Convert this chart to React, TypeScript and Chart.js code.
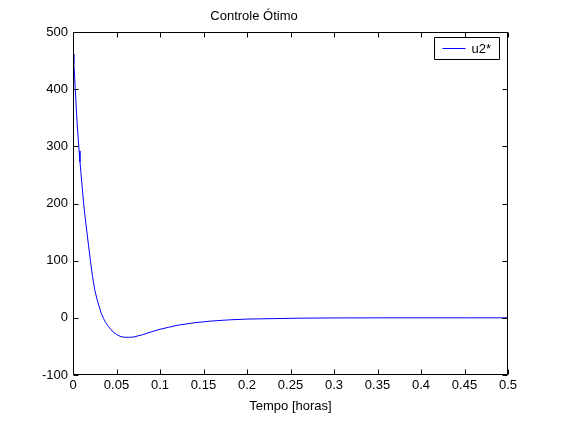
import React, { useEffect, useRef } from "react";
import { Chart, registerables } from "chart.js";

Chart.register(...registerables);

const chartTitle = "Controle Ótimo";
const xAxisTitle = "Tempo [horas]";
const seriesLabel = "u2*";

const times = [
  0, 0.001, 0.002, 0.003, 0.004, 0.005, 0.006, 0.007, 0.008, 0.009, 0.01,
  0.011, 0.012, 0.0135, 0.015, 0.0175, 0.02, 0.0225, 0.025, 0.0275, 0.03,
  0.0325, 0.035, 0.0375, 0.04, 0.045, 0.05, 0.055, 0.06, 0.065, 0.07, 0.08,
  0.09, 0.1, 0.11, 0.12, 0.14, 0.16, 0.18, 0.2, 0.23, 0.26, 0.3, 0.35, 0.4,
  0.45, 0.5,
];
const u2Values = [
  461, 445, 418, 388, 360, 335, 314, 292, 273, 256, 238, 222, 203, 182, 162,
  131, 100, 72, 49, 33, 20, 8, -1, -8, -14, -23, -29, -33, -34, -34, -33.5,
  -29.5, -24.5, -20, -16.5, -13, -8.5, -5.5, -3.5, -2.2, -1.4, -0.6, -0.2, 0,
  0, 0, 0,
];

const xMin = 0;
const xMax = 0.5;
const xStep = 0.05;
const yMin = -100;
const yMax = 500;
const yStep = 100;

const FONT = "'Liberation Sans', Arial, Helvetica, sans-serif";

const boxPlugin = {
  id: "matlabBox",
  afterDraw(chart: any) {
    const { ctx, chartArea: a, scales } = chart;
    const xs = scales.x;
    const ys = scales.y;
    const L = Math.round(a.left) + 0.5;
    const R = Math.round(a.right) - 0.5;
    const T = Math.round(a.top) + 0.5;
    const B = Math.round(a.bottom) - 0.5;
    const tl = 5;
    ctx.save();
    ctx.strokeStyle = "#000";
    ctx.lineWidth = 1;
    ctx.beginPath();
    ctx.rect(L, T, R - L, B - T);
    xs.ticks.forEach((t: any) => {
      const px = Math.round(xs.getPixelForValue(t.value)) + 0.5;
      ctx.moveTo(px, B);
      ctx.lineTo(px, B - tl);
      ctx.moveTo(px, T);
      ctx.lineTo(px, T + tl);
    });
    ys.ticks.forEach((t: any) => {
      const py = Math.round(ys.getPixelForValue(t.value)) + 0.5;
      ctx.moveTo(L, py);
      ctx.lineTo(L + tl, py);
      ctx.moveTo(R, py);
      ctx.lineTo(R - tl, py);
    });
    ctx.stroke();

    // legend
    const ds = chart.data.datasets[0];
    const lw = 65;
    const lh = 22;
    const lx = Math.round(a.right) - 9 - lw + 0.5;
    const ly = Math.round(a.top) + 5 + 0.5;
    ctx.fillStyle = "#fff";
    ctx.fillRect(lx, ly, lw, lh);
    ctx.beginPath();
    ctx.rect(lx, ly, lw, lh);
    ctx.stroke();
    const cy = Math.round(ly + lh / 2) - 0.5;
    ctx.strokeStyle = ds.borderColor;
    ctx.beginPath();
    ctx.moveTo(lx + 8, cy);
    ctx.lineTo(lx + 31, cy);
    ctx.stroke();
    ctx.fillStyle = "#000";
    ctx.font = `13px ${FONT}`;
    ctx.textBaseline = "middle";
    ctx.textAlign = "left";
    ctx.fillText(ds.label, lx + 37, cy + 0.5);
    ctx.restore();
  },
};

export default function App() {
  const ref = useRef<HTMLCanvasElement | null>(null);

  useEffect(() => {
    if (!ref.current) return;
    const chart = new Chart(ref.current, {
      type: "line",
      data: {
        datasets: [
          {
            label: seriesLabel,
            data: times.map((t, i) => ({ x: t, y: u2Values[i] })),
            borderColor: "#0000ff",
            borderWidth: 1,
            pointRadius: 0,
            tension: 0,
            fill: false,
          },
        ],
      },
      options: {
        animation: false,
        responsive: false,
        layout: { padding: { top: 0, right: 54, left: 0, bottom: 0 } },
        plugins: {
          legend: { display: false },
          tooltip: { enabled: false },
          title: {
            display: true,
            text: chartTitle,
            color: "#000",
            font: { family: FONT, size: 13, weight: "normal" },
            padding: { top: 9, bottom: 7.4 },
          },
        },
        scales: {
          x: {
            type: "linear",
            min: xMin,
            max: xMax,
            grid: { display: false, drawTicks: false },
            border: { display: false },
            ticks: {
              stepSize: xStep,
              color: "#000",
              padding: 3,
              maxRotation: 0,
              autoSkip: false,
              font: { family: FONT, size: 13 },
              callback: (v: any) => String(Number(Number(v).toFixed(2))),
            },
            title: {
              display: true,
              text: xAxisTitle,
              color: "#000",
              font: { family: FONT, size: 13 },
              padding: { top: 0, bottom: 8 },
            },
            afterFit: (s: any) => {
              s.height = 47;
            },
          },
          y: {
            type: "linear",
            min: yMin,
            max: yMax,
            grid: { display: false, drawTicks: false },
            border: { display: false },
            ticks: {
              stepSize: yStep,
              color: "#000",
              padding: 5,
              autoSkip: false,
              font: { family: FONT, size: 13 },
            },
            afterFit: (s: any) => {
              s.width = 73;
            },
          },
        },
      },
      plugins: [boxPlugin],
    });
    return () => chart.destroy();
  }, []);

  return (
    <div style={{ position: "absolute", left: 0, top: 0, width: 562, height: 422, background: "#fff" }}>
      <canvas ref={ref} width={562} height={422} style={{ display: "block" }} />
    </div>
  );
}
